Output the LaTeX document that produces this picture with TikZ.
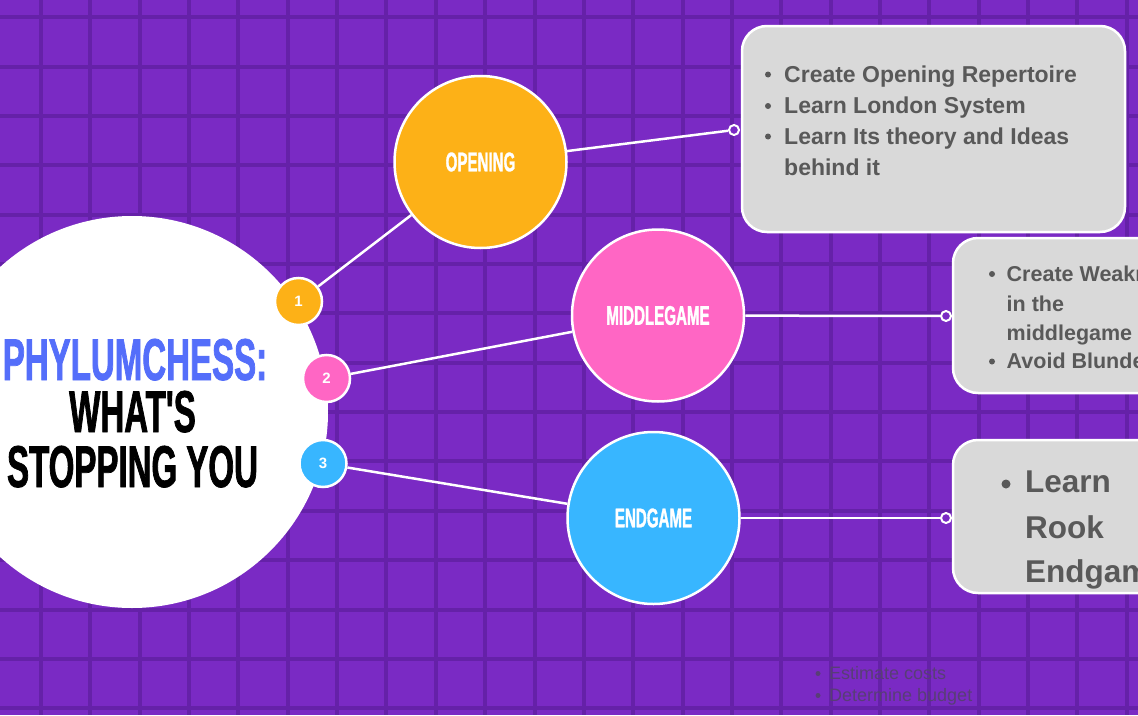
\documentclass[tikz,border=0pt]{standalone}
\usepackage{fontspec}
\setmainfont{Liberation Sans}
\newfontfamily\condfont[FakeStretch=0.56,FakeBold=1.2]{Liberation Sans}
\definecolor{bgpurple}{RGB}{122,42,196}
\definecolor{gridpurple}{RGB}{101,33,168}
\definecolor{corange}{RGB}{253,177,23}
\definecolor{cpink}{RGB}{255,102,196}
\definecolor{cblue}{RGB}{56,182,255}
\definecolor{titleblue}{RGB}{84,110,250}
\definecolor{boxgray}{RGB}{217,217,217}
\definecolor{txtgray}{RGB}{89,89,89}
\definecolor{ghost}{RGB}{88,62,118}
\begin{document}
\begin{tikzpicture}[x=1pt,y=-1pt,
  gridline/.style={draw=gridpurple,line width=4pt},
  conn/.style={draw=white,line width=2.5pt},
  numc/.style={circle,draw=white,line width=2.5pt,minimum size=47pt,inner sep=0pt,text=white,font=\bfseries\fontsize{15}{15}\selectfont},
  topic/.style={circle,draw=white,line width=2.5pt,minimum size=172pt,inner sep=0pt,text=white,font=\condfont\bfseries\fontsize{27}{27}\selectfont},
  infobox/.style={rounded corners=25pt,fill=boxgray,draw=white,line width=2.5pt,inner sep=0pt},
  ring/.style={circle,draw=white,fill=bgpurple,line width=2pt,minimum size=10pt,inner sep=0pt},
  bul/.style={circle,fill=txtgray,minimum size=6pt,inner sep=0pt},
  bigbul/.style={circle,fill=txtgray,minimum size=9pt,inner sep=0pt},
  ln/.style={anchor=base west,inner sep=0pt,text=txtgray,font=\bfseries\fontsize{23}{23}\selectfont},
  lnb/.style={anchor=base west,inner sep=0pt,text=txtgray,font=\bfseries\fontsize{21.5}{21.5}\selectfont},
  lnc/.style={anchor=base west,inner sep=0pt,text=txtgray,font=\bfseries\fontsize{31.5}{31.5}\selectfont},
  ghostln/.style={anchor=base west,inner sep=0pt,text=ghost,font=\fontsize{18}{18}\selectfont},
  ghostbul/.style={circle,fill=ghost,minimum size=5pt,inner sep=0pt},
  title/.style={anchor=base,inner sep=0pt,font=\condfont\bfseries\fontsize{59}{59}\selectfont},
]
\useasboundingbox (0,0) rectangle (1138,715);
\clip (0,0) rectangle (1138,715);
\fill[bgpurple] (0,0) rectangle (1138,715);
\foreach \k in {0,...,22} \draw[gridline] ({41+49.35*\k},0) -- ({41+49.35*\k},715);
\foreach \k in {0,...,14} \draw[gridline] (0,{17.3+49.35*\k}) -- (1138,{17.3+49.35*\k});

% central circle and title
\node[circle,fill=white,minimum size=392pt,inner sep=0pt] (main) at (132,412) {};
\node[title,text=titleblue] (t1) at (135,380) {PHYLUMCHESS:};
\node[title,text=black] (t2) at (132.5,432) {WHAT'S};
\node[title,text=black] (t3) at (132.5,487) {STOPPING YOU};

% numbered circles
\node[numc,fill=corange] (n1) at (298.5,301.5) {1};
\node[numc,fill=cpink] (n2) at (326.5,378.5) {2};
\node[numc,fill=cblue] (n3) at (323,463.5) {3};

% topic circles
\node[topic,fill=corange] (open) at (480.5,162) {OPENING};
\node[topic,fill=cpink] (mid) at (658,315.5) {MIDDLEGAME};
\node[topic,fill=cblue] (end) at (653.5,518) {ENDGAME};

% boxes
\node[infobox,minimum width=383pt,minimum height=206pt] (box1) at (933.5,129) {};
\node[infobox,minimum width=247pt,minimum height=155pt] (box2) at (1076.5,315.5) {};
\node[infobox,minimum width=247pt,minimum height=153pt] (box3) at (1076.5,516.5) {};

% ring dots
\node[ring] (d1) at (734,130) {};
\node[ring] (d2) at (946,316) {};
\node[ring] (d3) at (946,518) {};

% connectors
\draw[conn] (n1) -- (open);
\draw[conn] (n2) -- (mid);
\draw[conn] (n3) -- (end);
\draw[conn] (open) -- (d1);
\draw[conn] (mid) -- (d2);
\draw[conn] (end) -- (d3);

% box 1 text
\node[bul] (b11) at (768,74.5) {};
\node[ln] (l11) at (784,82.3) {Create Opening Repertoire};
\node[bul] (b12) at (768,106) {};
\node[ln] (l12) at (784,113.5) {Learn London System};
\node[bul] (b13) at (768,136.5) {};
\node[ln] (l13) at (784,144) {Learn Its theory and Ideas};
\node[ln] (l14) at (784,175) {behind it};

% box 2 text
\node[bul] (b21) at (992,274) {};
\node[lnb] (l21) at (1006.5,281.7) {Create Weaknesses};
\node[lnb] (l22) at (1006.5,311) {in the};
\node[lnb] (l23) at (1006.5,340) {middlegame};
\node[bul] (b22) at (992,361.5) {};
\node[lnb] (l24) at (1006.5,368.5) {Avoid Blunders};

% box 3 text
\node[bigbul] (b31) at (1006,484) {};
\node[lnc] (l31) at (1025,492) {Learn};
\node[lnc] (l32) at (1025,538) {Rook};
\node[lnc] (l33) at (1025,582) {Endgames};

% faint text at the bottom
\node[ghostbul] (g1) at (818,673.5) {};
\node[ghostln] (gl1) at (829,679.5) {Estimate costs};
\node[ghostbul] (g2) at (818,695.5) {};
\node[ghostln] (gl2) at (829,701.5) {Determine budget};
\end{tikzpicture}
\end{document}
